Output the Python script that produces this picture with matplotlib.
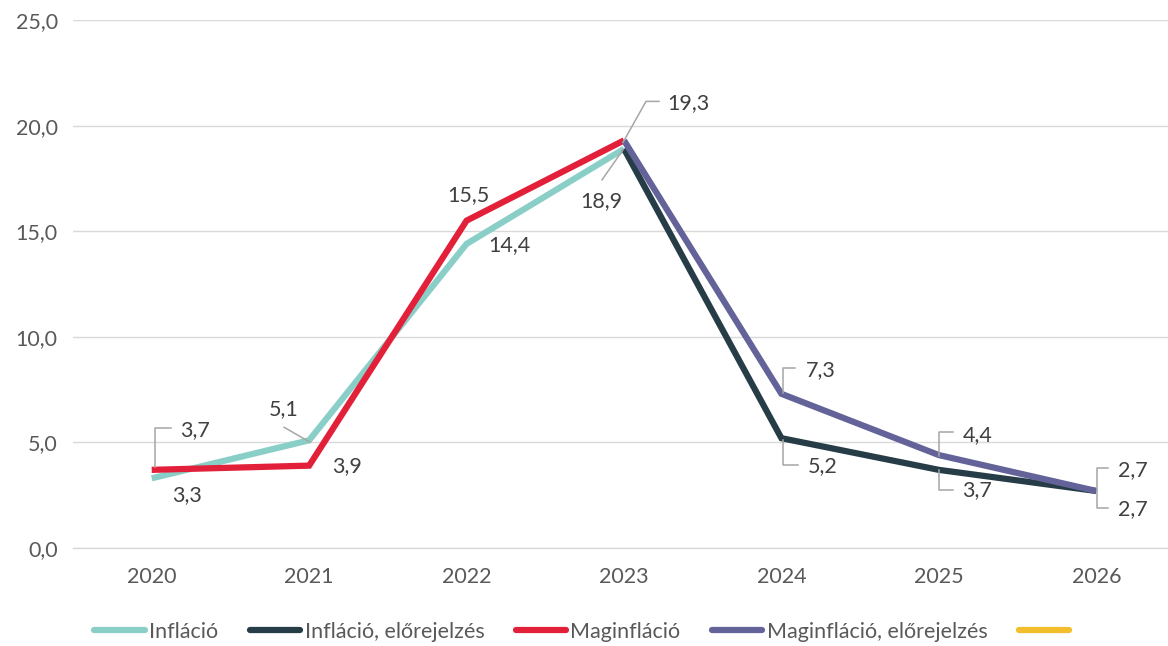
import matplotlib
matplotlib.use("Agg")
import matplotlib.pyplot as plt
from matplotlib.lines import Line2D
from matplotlib.transforms import IdentityTransform
from matplotlib.ticker import FuncFormatter, MultipleLocator

# --- data -------------------------------------------------------------
years = ["2020", "2021", "2022", "2023", "2024", "2025", "2026"]
inflacio = [3.3, 5.1, 14.4, 18.9, None, None, None]
inflacio_elore = [None, None, None, 18.9, 5.2, 3.7, 2.7]
maginflacio = [3.7, 3.9, 15.5, 19.3, None, None, None]
maginflacio_elore = [None, None, None, 19.3, 7.3, 4.4, 2.7]
series_names = ["Infláció", "Infláció, előrejelzés", "Maginfláció",
                "Maginfláció, előrejelzés", ""]

colors = ["#8ACFC7", "#263D47", "#E3203A", "#63639A", "#F2BE2C"]

plt.rcParams["font.family"] = ["Lato", "DejaVu Sans"]
FS = 15.5

W, H = 1168, 646
fig = plt.figure(figsize=(W / 100, H / 100), dpi=100)
ax_left, ax_right, ax_top, ax_bottom = 73, 1175, 20, 548
ax = fig.add_axes([ax_left / W, (H - ax_bottom) / H,
                   (ax_right - ax_left) / W, (ax_bottom - ax_top) / H])
ax.set_xlim(-0.5, len(years) - 0.5)
ax.set_ylim(0, 25)

def pts(vals):
    xs = [i for i, v in enumerate(vals) if v is not None]
    ys = [v for v in vals if v is not None]
    return xs, ys

all_series = [inflacio, inflacio_elore, maginflacio, maginflacio_elore]
for vals, c in zip(all_series, colors):
    xs, ys = pts(vals)
    ax.plot(xs, ys, color=c, lw=4.5, solid_joinstyle="miter",
            solid_capstyle="butt", zorder=3)

# axes styling
ax.yaxis.set_major_locator(MultipleLocator(5))
ax.yaxis.set_major_formatter(FuncFormatter(lambda v, p: f"{v:.1f}".replace(".", ",")))
ax.set_xticks(range(len(years)))
ax.set_xticklabels(years)
ax.grid(axis="y", color="#D9D9D9", lw=1.0)
ax.set_axisbelow(True)
for s in ["top", "right", "left"]:
    ax.spines[s].set_visible(False)
ax.spines["bottom"].set_color("#D9D9D9")
ax.spines["bottom"].set_linewidth(1.0)
ax.tick_params(axis="both", length=0, labelsize=FS, colors="#595959")
ax.tick_params(axis="y", pad=11)
ax.tick_params(axis="x", pad=14)

# --- data labels with leader lines ------------------------------------
# (series, index, text offset (dx, dy) in px, horizontal align, leader path)
label_specs = [
    (maginflacio, 0, (28, -40), "left", [(3, -3), (3, -42), (19, -42)]),
    (inflacio, 0, (35, 17), "center", None),
    (inflacio, 1, (-25, -31), "center", [(1, 2), (-25, -13)]),
    (maginflacio, 1, (38, 0), "center", None),
    (maginflacio, 2, (2, -26), "center", None),
    (inflacio, 2, (43, 1), "center", None),
    (maginflacio, 3, (64, -37), "center", [(-1, 2), (22, -39), (35, -39)]),
    (inflacio, 3, (-23, 52), "center", [(-1, 1), (-22, 31)]),
    (maginflacio_elore, 4, (24, -24), "left", [(2, -1), (2, -26), (14, -26)]),
    (inflacio_elore, 4, (26, 28), "left", [(2, 2), (2, 27), (17, 27)]),
    (maginflacio_elore, 5, (24, -20), "left", [(0, 1), (0, -23), (14, -23)]),
    (inflacio_elore, 5, (23, 20), "left", [(0, 0), (0, 20), (14, 20)]),
    (maginflacio_elore, 6, (22, -21), "left", [(1, 0), (1, -23), (12, -23)]),
    (inflacio_elore, 6, (22, 18), "left", [(1, 0), (1, 17), (12, 17)]),
]

ident = IdentityTransform()
for vals, i, (dx, dy), ha, path in label_specs:
    v = vals[i]
    px, py = ax.transData.transform((i, v))
    txt = f"{v:.1f}".replace(".", ",")
    fig.text(px + dx, py - dy, txt, transform=ident, ha=ha, va="center",
             fontsize=FS, color="#404040", zorder=5)
    if path:
        xs = [px + a for a, b in path]
        ys = [py - b for a, b in path]
        fig.add_artist(Line2D(xs, ys, transform=ident, color="#A6A6A6",
                              lw=1.1, zorder=4))

# --- legend -----------------------------------------------------------
handles = [Line2D([], [], color=c, lw=4.5, solid_capstyle="round") for c in colors]
leg = fig.legend(handles, series_names, loc="center", ncol=5,
                 bbox_to_anchor=(0.5, (H - 632) / H), frameon=False,
                 fontsize=FS, handlelength=2.35, handletextpad=0.2,
                 columnspacing=1.45, borderaxespad=0)
for t in leg.get_texts():
    t.set_color("#595959")

fig.savefig("out.png", dpi=100)
